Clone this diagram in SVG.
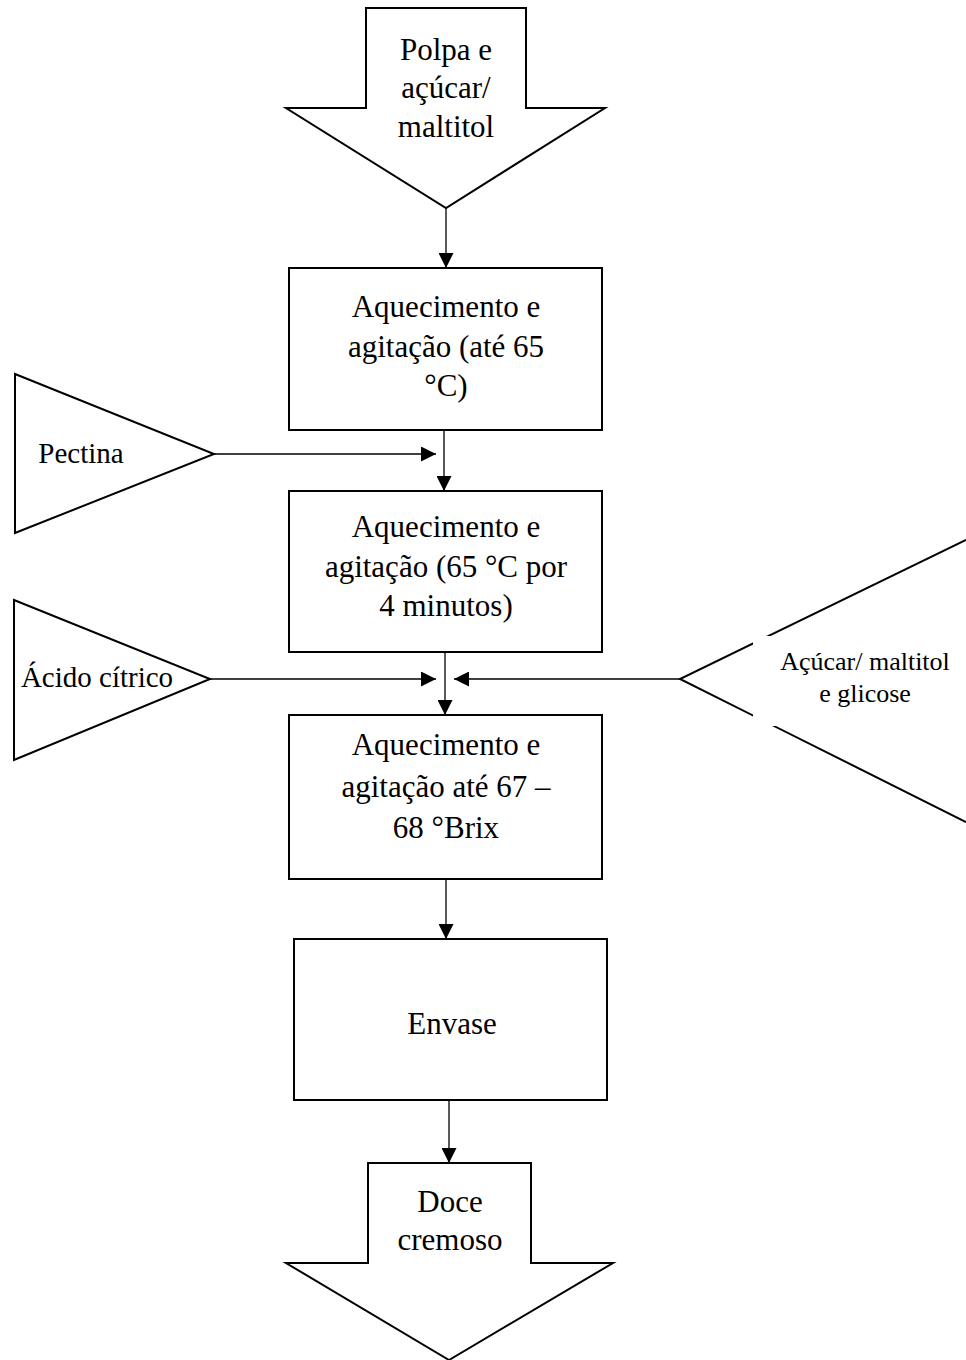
<svg xmlns="http://www.w3.org/2000/svg" width="966" height="1360" viewBox="0 0 966 1360">
<style>
.shape{fill:#fff;stroke:#000;stroke-width:2}
.open{fill:none;stroke:#000;stroke-width:2}
.t{font-family:"Liberation Serif","Times New Roman",serif;font-size:31px;fill:#000;text-anchor:middle}
.s{font-family:"Liberation Serif","Times New Roman",serif;font-size:29px;fill:#000;text-anchor:middle}
.r{font-family:"Liberation Serif","Times New Roman",serif;font-size:26px;fill:#000;text-anchor:middle}
.c{fill:none;stroke:#000;stroke-width:1.3}
</style>
<defs>
<marker id="ah" viewBox="0 0 15 15" refX="15" refY="7.5" markerWidth="15" markerHeight="15" markerUnits="userSpaceOnUse" orient="auto">
<path d="M0,0 L15,7.5 L0,15 Z" fill="#000"/>
</marker>
</defs>
<rect width="966" height="1360" fill="#fff"/>
<g id="connectors">
<line class="c" x1="446" y1="208" x2="446" y2="268" marker-end="url(#ah)"/>
<line class="c" x1="444" y1="430" x2="444" y2="491" marker-end="url(#ah)"/>
<line class="c" x1="214" y1="454" x2="436" y2="454" marker-end="url(#ah)"/>
<line class="c" x1="445" y1="652" x2="445" y2="715" marker-end="url(#ah)"/>
<line class="c" x1="210" y1="679" x2="436" y2="679" marker-end="url(#ah)"/>
<line class="c" x1="680" y1="679" x2="454" y2="679" marker-end="url(#ah)"/>
<line class="c" x1="446" y1="879" x2="446" y2="939" marker-end="url(#ah)"/>
<line class="c" x1="449" y1="1100" x2="449" y2="1163" marker-end="url(#ah)"/>
</g>
<g id="n-polpa">
<polygon class="shape" points="366,8 526,8 526,108 605,108 446,208 286,108 366,108"/>
<text class="t" x="446" y="60">Polpa e</text>
<text class="t" x="446" y="98">açúcar/</text>
<text class="t" x="446" y="137">maltitol</text>
</g>
<g id="n-aquec1">
<rect class="shape" x="289" y="268" width="313" height="162"/>
<text class="t" x="446" y="317">Aquecimento e</text>
<text class="t" x="446" y="357">agitação (até 65</text>
<text class="t" x="446" y="396">°C)</text>
</g>
<g id="n-pectina">
<polygon class="shape" points="15,374 214,454 15,533"/>
<text class="s" x="81" y="463">Pectina</text>
</g>
<g id="n-aquec2">
<rect class="shape" x="289" y="491" width="313" height="161"/>
<text class="t" x="446" y="537">Aquecimento e</text>
<text class="t" x="446" y="577">agitação (65 °C por</text>
<text class="t" x="446" y="616">4 minutos)</text>
</g>
<g id="n-acido">
<polygon class="shape" points="14,600 210,679 14,760"/>
<text class="s" x="97" y="687">Ácido cítrico</text>
</g>
<g id="n-acucar">
<polyline class="open" points="966,540 680,679 966,822"/>
<rect x="753" y="636" width="213" height="90" fill="#fff"/>
<text class="r" x="865" y="670">Açúcar/ maltitol</text>
<text class="r" x="865" y="702">e glicose</text>
</g>
<g id="n-aquec3">
<rect class="shape" x="289" y="715" width="313" height="164"/>
<text class="t" x="446" y="755">Aquecimento e</text>
<text class="t" x="446" y="797">agitação até 67 –</text>
<text class="t" x="446" y="838">68 °Brix</text>
</g>
<g id="n-envase">
<rect class="shape" x="294" y="939" width="313" height="161"/>
<text class="t" x="452" y="1034">Envase</text>
</g>
<g id="n-doce">
<polygon class="shape" points="368,1163 531,1163 531,1263 613,1263 449,1360 286,1263 368,1263"/>
<text class="t" x="450" y="1212">Doce</text>
<text class="t" x="450" y="1250">cremoso</text>
</g>
</svg>
